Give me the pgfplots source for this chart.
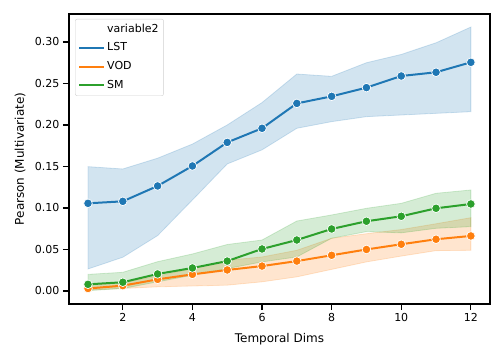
\documentclass[border=0pt]{standalone}
\usepackage{pgfplots}
\pgfplotsset{compat=1.18}
\usepackage{pgfplotstable}
\usepgfplotslibrary{fillbetween}
\usepackage{fontspec}
\setmainfont{DejaVu Sans}
\definecolor{cLST}{HTML}{1F77B4}
\definecolor{cVOD}{HTML}{FF7F0E}
\definecolor{cSM}{HTML}{2CA02C}

\pgfplotstableread{
x mean lo hi
1 0.1056 0.0265 0.1498
2 0.1080 0.0406 0.1470
3 0.1265 0.0667 0.1600
4 0.1506 0.1096 0.1770
5 0.1790 0.1530 0.2000
6 0.1960 0.1700 0.2270
7 0.2260 0.1960 0.2614
8 0.2345 0.2040 0.2586
9 0.2450 0.2100 0.2750
10 0.2590 0.2120 0.2850
11 0.2635 0.2140 0.2990
12 0.2755 0.2160 0.3180
}\lst
\pgfplotstableread{
x mean lo hi
1 0.0030 0.0010 0.0070
2 0.0064 0.0030 0.0100
3 0.0140 0.0050 0.0180
4 0.0200 0.0060 0.0270
5 0.0253 0.0070 0.0370
6 0.0300 0.0110 0.0410
7 0.0360 0.0170 0.0490
8 0.0430 0.0260 0.0635
9 0.0500 0.0350 0.0690
10 0.0563 0.0420 0.0740
11 0.0623 0.0486 0.0810
12 0.0663 0.0490 0.0883
}\vod
\pgfplotstableread{
x mean lo hi
1 0.0080 0.0004 0.0200
2 0.0105 0.0030 0.0225
3 0.0205 0.0110 0.0353
4 0.0277 0.0190 0.0446
5 0.0360 0.0270 0.0560
6 0.0506 0.0350 0.0614
7 0.0614 0.0410 0.0843
8 0.0747 0.0635 0.0916
9 0.0840 0.0715 0.0996
10 0.0900 0.0700 0.1056
11 0.0996 0.0755 0.1177
12 0.1048 0.0775 0.1217
}\sm

\begin{document}
\begin{tikzpicture}
\begin{axis}[
  at={(0,0)}, anchor=south west,
  width=421pt, height=290pt, scale only axis,
  xmin=0.454, xmax=12.55, ymin=-0.0157, ymax=0.3337,
  xtick={2,4,6,8,10,12},
  ytick={0,0.05,0.10,0.15,0.20,0.25,0.30},
  yticklabel style={/pgf/number format/.cd, fixed, fixed zerofill, precision=2},
  /pgf/number format/assume math mode=true,
  tick label style={font=\fontsize{11}{13}\selectfont},
  label style={font=\fontsize{12}{14}\selectfont},
  xlabel={Temporal Dims},
  ylabel={Pearson (Multivariate)},
  xlabel style={at={(axis description cs:0.5,-0.121)}, anchor=center},
  ylabel style={at={(axis description cs:-0.116,0.5)}, anchor=center},
  axis line style={line width=1.4pt, black},
  tick style={line width=1.1pt, black},
  major tick length=6pt,
  tick align=outside,
  xtick pos=bottom, ytick pos=left,
  legend cell align=left,
  legend style={at={(0.0143,0.983)}, anchor=north west,
    draw=black!18, rounded corners=2pt, fill=white, fill opacity=0.8, text opacity=1,
    font=\fontsize{11}{13}\selectfont,
    row sep=4.2pt, inner xsep=3pt, inner ysep=3pt,
    nodes={inner sep=2pt, text height=8pt, text depth=2.5pt}},
  legend image code/.code={\draw[#1] (0pt,0pt) -- (25pt,0pt);},
]
\addlegendimage{draw opacity=0, opacity=0, line width=2pt}
\addlegendentry{variable2}
\addlegendimage{cLST, line width=2pt}
\addlegendentry{LST}
\addlegendimage{cVOD, line width=2pt}
\addlegendentry{VOD}
\addlegendimage{cSM, line width=2pt}
\addlegendentry{SM}

% LST
\addplot[name path=lstHi, draw=none, forget plot] table[x=x, y=hi]{\lst};
\addplot[name path=lstLo, draw=none, forget plot] table[x=x, y=lo]{\lst};
\addplot[fill=cLST, fill opacity=0.2, draw=cLST, draw opacity=0.2, line width=0.8pt, forget plot] fill between[of=lstHi and lstLo];
\addplot[cLST, line width=2pt, mark=*, mark size=4.3pt, mark options={fill=cLST, draw=white, line width=0.7pt}, forget plot] table[x=x, y=mean]{\lst};

% VOD
\addplot[name path=vodHi, draw=none, forget plot] table[x=x, y=hi]{\vod};
\addplot[name path=vodLo, draw=none, forget plot] table[x=x, y=lo]{\vod};
\addplot[fill=cVOD, fill opacity=0.2, draw=cVOD, draw opacity=0.2, line width=0.8pt, forget plot] fill between[of=vodHi and vodLo];
\addplot[cVOD, line width=2pt, mark=*, mark size=4.3pt, mark options={fill=cVOD, draw=white, line width=0.7pt}, forget plot] table[x=x, y=mean]{\vod};

% SM
\addplot[name path=smHi, draw=none, forget plot] table[x=x, y=hi]{\sm};
\addplot[name path=smLo, draw=none, forget plot] table[x=x, y=lo]{\sm};
\addplot[fill=cSM, fill opacity=0.2, draw=cSM, draw opacity=0.2, line width=0.8pt, forget plot] fill between[of=smHi and smLo];
\addplot[cSM, line width=2pt, mark=*, mark size=4.3pt, mark options={fill=cSM, draw=white, line width=0.7pt}, forget plot] table[x=x, y=mean]{\sm};
\end{axis}
\path[use as bounding box] (-69pt,-56pt) rectangle (435pt,304pt);
\end{tikzpicture}
\end{document}
